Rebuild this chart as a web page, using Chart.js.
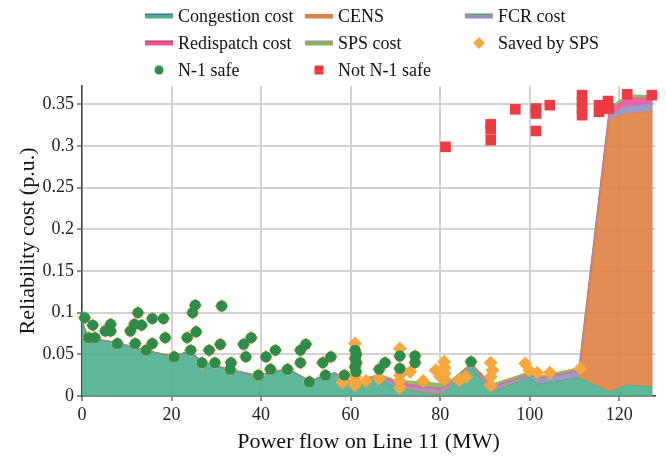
<!DOCTYPE html>
<html>
<head>
<meta charset="utf-8">
<script src="https://cdn.jsdelivr.net/npm/chart.js@4.4.1/dist/chart.umd.min.js"></script>
<style>
  html, body { margin: 0; padding: 0; background: #fff; }
</style>
</head>
<body>
<canvas id="graficoCostos" width="666" height="460"></canvas>
<script>
// flujo en la linea 11 (MW) y capas de costo apiladas (p.u.)
const flujo       = [0, 1.5, 8, 14, 20.5, 24, 27, 33, 39, 46, 51, 54, 56.5, 59, 61, 63.5, 66.5, 70, 73, 76, 80, 82, 87, 91.5, 100, 101.7, 111, 117.8, 121.8, 127.5];
const congestion  = [0.089, 0.069, 0.063, 0.054, 0.047, 0.053, 0.040, 0.031, 0.024, 0.032, 0.017, 0.024, 0.027, 0.016, 0.010, 0.016, 0.020, 0.011, 0.007, 0.004, 0.001, 0.009, 0.035, 0.004, 0.023, 0.014, 0.022, 0.005, 0.013, 0.011];
const cens        = [0, 0, 0, 0, 0, 0, 0, 0, 0, 0, 0, 0, 0, 0, 0, 0, 0, 0, 0.001, 0.001, 0.002, 0.001, 0, 0.001, 0, 0, 0, 0.328, 0.326, 0.331];
const fcr         = [0, 0, 0, 0, 0, 0, 0, 0, 0, 0, 0, 0, 0, 0.002, 0.002, 0.002, 0.002, 0.003, 0.003, 0.004, 0.004, 0.003, 0.002, 0.004, 0.002, 0.006, 0.007, 0.004, 0.009, 0.008];
const redespacho  = [0.001, 0.001, 0.001, 0.001, 0.001, 0.001, 0.001, 0.001, 0.001, 0.001, 0.001, 0.001, 0.001, 0.002, 0.003, 0.002, 0.002, 0.003, 0.003, 0.002, 0.002, 0.001, 0.001, 0.002, 0.001, 0.001, 0.002, 0.006, 0.009, 0.008];
const costoSps    = [0, 0, 0, 0, 0, 0, 0, 0, 0, 0, 0, 0, 0, 0.001, 0.002, 0.002, 0.002, 0.002, 0.004, 0.006, 0.006, 0.003, 0.002, 0.003, 0.003, 0.002, 0.003, 0.003, 0.004, 0.003];

// escenarios N-1 seguros
const seguroX = [0.6, 1.5, 2.4, 2.9, 5.2, 6.4, 6.4, 7.9, 10.8, 11.7, 12.5, 13.3, 11.9, 14.3, 15.7, 15.7, 18.2, 18.6, 20.6, 23.5, 24.3, 24.7, 25.3, 25.5, 26.8, 28.4, 29.7, 31.2, 30.9, 33.3, 33.1, 36.1, 36.6, 37.8, 39.4, 41.1, 42.1, 43.2, 45.9, 48.8, 48.8, 50.0, 50.8, 53.8, 54.4, 55.6, 58.6, 61.0, 61.3, 61.0, 61.3, 61.0, 61.2, 66.4, 67.7, 71.0, 71.0, 74.4, 74.4, 86.9];
const seguroY = [0.094, 0.070, 0.085, 0.070, 0.078, 0.086, 0.078, 0.063, 0.078, 0.086, 0.100, 0.085, 0.063, 0.055, 0.093, 0.063, 0.093, 0.070, 0.047, 0.070, 0.055, 0.100, 0.109, 0.077, 0.040, 0.055, 0.040, 0.108, 0.062, 0.040, 0.032, 0.062, 0.047, 0.070, 0.025, 0.047, 0.032, 0.055, 0.032, 0.055, 0.040, 0.062, 0.017, 0.040, 0.025, 0.047, 0.025, 0.055, 0.050, 0.045, 0.040, 0.035, 0.029, 0.032, 0.040, 0.048, 0.033, 0.048, 0.040, 0.041];

// escenarios que solo quedan seguros gracias al SPS
const spsX = [58.2, 61.0, 61.0, 61.0, 61.0, 63.4, 66.4, 71.0, 71.0, 71.0, 71.0, 73.3, 76.2, 79.0, 80.0, 80.9, 81.0, 81.0, 81.0, 84.3, 85.8, 91.3, 91.7, 91.3, 91.3, 99.0, 99.9, 101.7, 104.5, 111.3];
const spsY = [0.016, 0.063, 0.023, 0.018, 0.013, 0.018, 0.021, 0.057, 0.025, 0.018, 0.010, 0.029, 0.018, 0.031, 0.023, 0.041, 0.034, 0.027, 0.020, 0.019, 0.023, 0.040, 0.031, 0.023, 0.013, 0.039, 0.031, 0.028, 0.028, 0.033];

// escenarios no seguros
const inseguroX = [81.2, 91.3, 91.3, 91.3, 96.8, 101.4, 101.4, 101.4, 104.5, 111.7, 111.7, 111.7, 111.7, 115.5, 115.5, 117.5, 117.7, 121.8, 127.3];
const inseguroY = [0.299, 0.326, 0.320, 0.307, 0.344, 0.345, 0.339, 0.318, 0.349, 0.361, 0.353, 0.345, 0.337, 0.349, 0.341, 0.354, 0.345, 0.362, 0.361];

const fuente = 'Liberation Serif';
const ordenLeyenda = ['Congestion cost', 'CENS', 'FCR cost', 'Redispatch cost', 'SPS cost', 'Saved by SPS', 'N-1 safe', 'Not N-1 safe'];

const puntos = (xs, ys) => xs.map((x, i) => ({ x: x, y: ys[i] }));

function capa(label, valores, color, acento, fill) {
  return {
    type: 'line',
    label: label,
    data: puntos(flujo, valores),
    stack: 'costos',
    fill: fill,
    backgroundColor: color + 'e6',
    borderColor: color,
    borderWidth: 1,
    pointRadius: 0,
    tension: 0,
    acento: acento
  };
}

function marcador(label, xs, ys, estilo, radio, color) {
  return {
    type: 'scatter',
    label: label,
    data: puntos(xs, ys),
    stack: label,
    pointStyle: estilo,
    pointRadius: radio,
    pointHoverRadius: radio,
    backgroundColor: color,
    borderColor: color,
    borderWidth: 0,
    clip: false
  };
}

// leyenda en tres columnas sobre el grafico
const leyendaTabla = {
  id: 'leyendaTabla',
  afterDraw(chart) {
    const ctx = chart.ctx;
    ctx.save();
    ctx.font = '18px "' + fuente + '"';
    ctx.textBaseline = 'middle';
    ordenLeyenda.forEach((nombre, i) => {
      const ds = chart.data.datasets.find(d => d.label === nombre);
      if (!ds) return;
      const x0 = 145 + (i % 3) * 160;
      const y0 = 16 + Math.floor(i / 3) * 27;
      const xc = x0 + 14;
      if (ds.type === 'line') {
        ctx.fillStyle = ds.borderColor;
        ctx.fillRect(x0, y0 - 2, 28, 4.5);
        if (ds.acento) {
          ctx.fillStyle = ds.acento;
          ctx.fillRect(x0, y0 - 2.5, 28, 1.2);
        }
      } else {
        ctx.fillStyle = ds.backgroundColor;
        ctx.beginPath();
        if (ds.pointStyle === 'circle') {
          ctx.arc(xc, y0, 4.5, 0, Math.PI * 2);
        } else if (ds.pointStyle === 'rect') {
          ctx.rect(xc - 4.5, y0 - 4.5, 9, 9);
        } else {
          ctx.moveTo(xc, y0 - 6);
          ctx.lineTo(xc + 6, y0);
          ctx.lineTo(xc, y0 + 6);
          ctx.lineTo(xc - 6, y0);
          ctx.closePath();
        }
        ctx.fill();
      }
      ctx.fillStyle = '#111';
      ctx.fillText(nombre, x0 + 33, y0 + 1);
    });
    ctx.restore();
  }
};

const datasets = [
  marcador('Not N-1 safe', inseguroX, inseguroY, 'rect', 7.5, '#ee3a42'),
  marcador('N-1 safe', seguroX, seguroY, 'circle', 5.5, '#2e8b4a'),
  marcador('Saved by SPS', seguroX.concat(spsX), seguroY.concat(spsY), 'rectRot', 7, '#f7a83c'),
  capa('Congestion cost', congestion, '#4caf90', '#3b5f9e', 'origin'),
  capa('CENS', cens, '#e07f41', null, '-1'),
  capa('FCR cost', fcr, '#9590c3', '#5aa04a', '-1'),
  capa('Redispatch cost', redespacho, '#e8559b', '#d0303a', '-1'),
  capa('SPS cost', costoSps, '#88b44f', '#9590c3', '-1')
];

const ejeTexto = { family: fuente, size: 18 };
const tituloTexto = { family: fuente, size: 22 };

new Chart(document.getElementById('graficoCostos').getContext('2d'), {
  type: 'line',
  data: { datasets: datasets },
  plugins: [leyendaTabla],
  options: {
    responsive: false,
    animation: false,
    layout: { padding: { top: 86, right: 11, left: 0, bottom: 0 } },
    plugins: {
      legend: { display: false },
      tooltip: { enabled: false }
    },
    scales: {
      x: {
        type: 'linear',
        min: 0,
        max: 128,
        afterFit: eje => { eje.height = 64; },
        ticks: { stepSize: 20, includeBounds: false, color: '#222', font: ejeTexto, padding: 3, maxRotation: 0 },
        grid: { color: '#d2d2d2', lineWidth: 2, tickColor: '#444', tickLength: 5, tickWidth: 1.2 },
        border: { display: true, color: '#444', width: 1.5 },
        title: { display: true, text: 'Power flow on Line 11 (MW)', color: '#111', font: tituloTexto, padding: { top: 0, bottom: 5 } }
      },
      y: {
        stacked: true,
        min: 0,
        max: 0.372,
        afterFit: eje => { eje.width = 82; },
        ticks: {
          stepSize: 0.05,
          includeBounds: false,
          color: '#222',
          font: ejeTexto,
          padding: 3,
          callback: v => String(parseFloat(v.toFixed(2)))
        },
        grid: { color: '#d2d2d2', lineWidth: 2, tickColor: '#444', tickLength: 5, tickWidth: 1.2 },
        border: { display: true, color: '#444', width: 1.5 },
        title: { display: true, text: 'Reliability cost (p.u.)', color: '#111', font: tituloTexto, padding: { top: 15, bottom: 0 } }
      }
    }
  }
});
</script>
</body>
</html>
